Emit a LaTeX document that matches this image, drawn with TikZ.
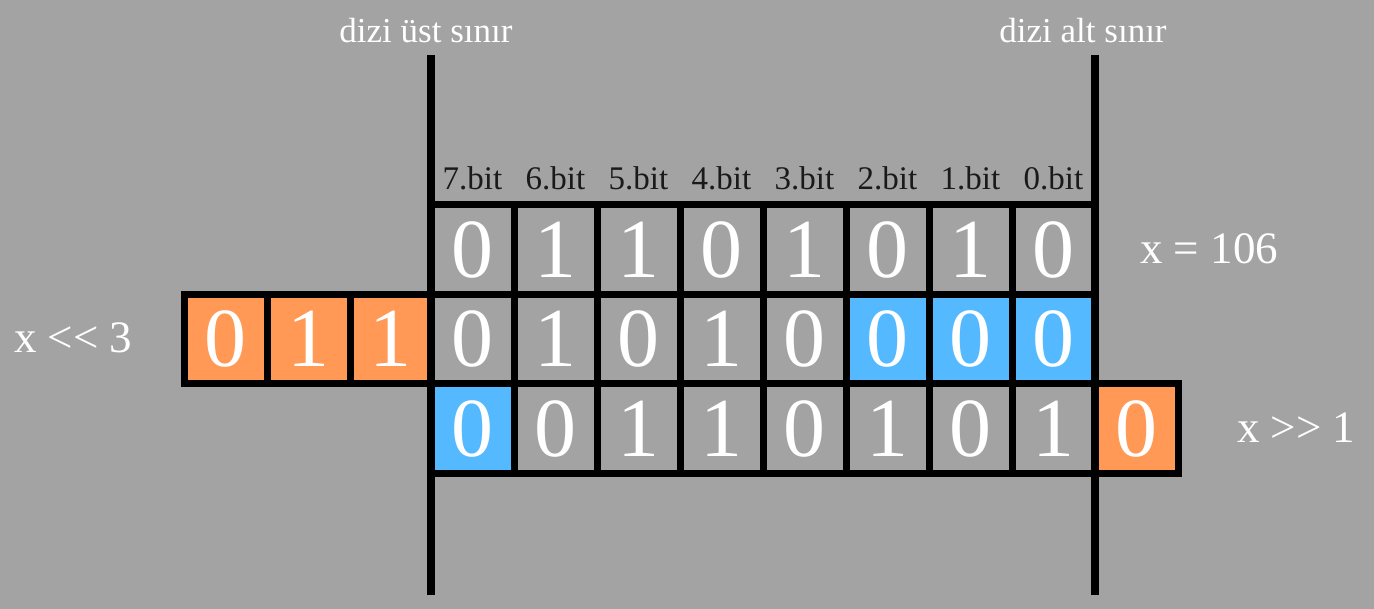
\documentclass[tikz,border=0pt]{standalone}
\usepackage{fontspec}
\setmainfont{Liberation Serif}
\definecolor{bg}{HTML}{A3A3A3}
\definecolor{orng}{HTML}{FF9955}
\definecolor{blu}{HTML}{55B9FF}
\definecolor{lbl}{HTML}{1A1A1A}
\tikzset{
  cellbox/.style={draw=black, line width=7pt, minimum width=83pt, minimum height=89.5pt, inner sep=0pt, text=white, font=\fontsize{84}{84}\selectfont},
  orangecell/.style={cellbox, fill=orng},
  bluecell/.style={cellbox, fill=blu},
  graycell/.style={cellbox},
  bitlabel/.style={anchor=base, text=lbl, inner sep=0pt, font=\fontsize{33}{33}\selectfont},
  toplabel/.style={anchor=base, text=white, inner sep=0pt, font=\fontsize{35}{35}\selectfont},
  sidelabel/.style={anchor=base west, text=white, inner sep=0pt, font=\fontsize{45}{45}\selectfont},
  bound/.style={draw=black, line width=7.5pt}
}
\begin{document}
\begin{tikzpicture}[x=1pt, y=-1pt]
\fill[bg] (0,0) rectangle (1374,609);
\useasboundingbox (0,0) rectangle (1374,609);
% row 1: x = 106
\node[graycell] (a7) at (472.5,249.75) {0};
\node[graycell] (a6) at (555.5,249.75) {1};
\node[graycell] (a5) at (638.5,249.75) {1};
\node[graycell] (a4) at (721.5,249.75) {0};
\node[graycell] (a3) at (804.5,249.75) {1};
\node[graycell] (a2) at (887.5,249.75) {0};
\node[graycell] (a1) at (970.5,249.75) {1};
\node[graycell] (a0) at (1053.5,249.75) {0};
% row 2: x << 3
\node[orangecell, minimum width=83pt] (l2) at (225.5,339.25) {0};
\node[orangecell, minimum width=83pt] (l1) at (308.5,339.25) {1};
\node[orangecell, minimum width=81pt] (l0) at (390.5,339.25) {1};
\node[graycell] (b7) at (472.5,339.25) {0};
\node[graycell] (b6) at (555.5,339.25) {1};
\node[graycell] (b5) at (638.5,339.25) {0};
\node[graycell] (b4) at (721.5,339.25) {1};
\node[graycell] (b3) at (804.5,339.25) {0};
\node[bluecell] (b2) at (887.5,339.25) {0};
\node[bluecell] (b1) at (970.5,339.25) {0};
\node[bluecell] (b0) at (1053.5,339.25) {0};
% row 3: x >> 1
\node[bluecell] (c7) at (472.5,428.75) {0};
\node[graycell] (c6) at (555.5,428.75) {0};
\node[graycell] (c5) at (638.5,428.75) {1};
\node[graycell] (c4) at (721.5,428.75) {1};
\node[graycell] (c3) at (804.5,428.75) {0};
\node[graycell] (c2) at (887.5,428.75) {1};
\node[graycell] (c1) at (970.5,428.75) {0};
\node[graycell] (c0) at (1053.5,428.75) {1};
\node[orangecell] (r0) at (1136.5,428.75) {0};
% bit labels
\node[bitlabel] (t7) at (472.5,190) {7.bit};
\node[bitlabel] (t6) at (555.5,190) {6.bit};
\node[bitlabel] (t5) at (638.5,190) {5.bit};
\node[bitlabel] (t4) at (721.5,190) {4.bit};
\node[bitlabel] (t3) at (804.5,190) {3.bit};
\node[bitlabel] (t2) at (887.5,190) {2.bit};
\node[bitlabel] (t1) at (970.5,190) {1.bit};
\node[bitlabel] (t0) at (1053.5,190) {0.bit};
% bounds
\coordinate (ustTop) at (431,55);
\coordinate (ustBot) at (431,595);
\coordinate (altTop) at (1095,55);
\coordinate (altBot) at (1095,595);
\draw[bound] (ustTop) -- (ustBot);
\draw[bound] (altTop) -- (altBot);
\node[toplabel] (ust) at (426,43) {dizi üst sınır};
\node[toplabel] (alt) at (1083,43) {dizi alt sınır};
% side labels
\node[sidelabel] (xval) at (1140,264) {x = 106};
\node[sidelabel] (xl) at (14,353) {x <\kern0pt< 3};
\node[sidelabel] (xr) at (1237,443) {x >\kern0pt> 1};
\end{tikzpicture}
\end{document}
